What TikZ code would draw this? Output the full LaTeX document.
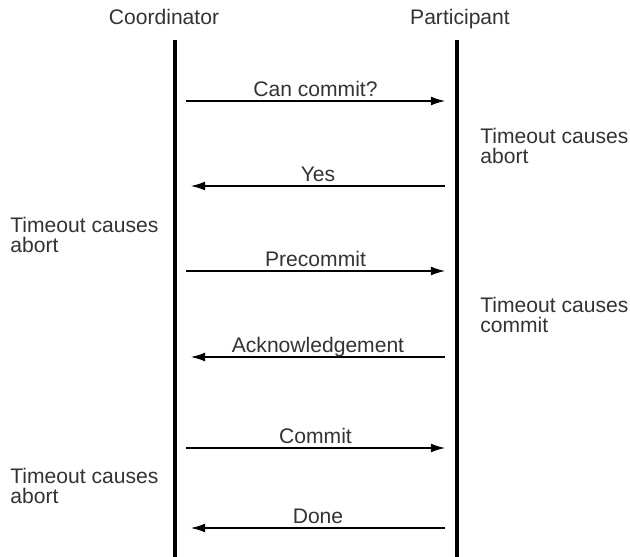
\documentclass[tikz,border=0pt]{standalone}
\usepackage{fontspec}
\setmainfont{Liberation Sans}
\usetikzlibrary{arrows.meta}

\begin{document}
\begin{tikzpicture}[x=0.02cm,y=-0.02cm,
  every node/.style={text=black!80,font=\fontsize{12}{11.9}\selectfont},
  lifeline/.style={line width=1.9pt},
  msg/.style={line width=0.6pt,-{Latex[length=8pt,width=5pt]}},
  msglabel/.style={midway,anchor=base,yshift=2.3pt},
  note/.style={align=left,inner sep=0pt,anchor=base west}]
\useasboundingbox (0,0) rectangle (630,557);
% Kopfzeile
\node[anchor=base] (coord) at (164,25) {Coordinator};
\node[anchor=base] (part) at (460,25) {Participant};
% Lebenslinien
\coordinate (ctop) at (175,40);
\coordinate (cbot) at (175,557);
\coordinate (ptop) at (457,40);
\coordinate (pbot) at (457,557);
\draw[lifeline] (ctop) -- (cbot);
\draw[lifeline] (ptop) -- (pbot);
% Can commit?
\coordinate (c1) at (186,101);
\coordinate (p1) at (445,101);
\draw[msg] (c1) -- (p1) node[msglabel] {Can commit?};
% Yes
\coordinate (p2) at (445,186);
\coordinate (c2) at (191,186);
\draw[msg] (p2) -- (c2) node[msglabel] {Yes};
% Precommit
\coordinate (c3) at (186,271);
\coordinate (p3) at (445,271);
\draw[msg] (c3) -- (p3) node[msglabel] {Precommit};
% Acknowledgement
\coordinate (p4) at (445,357);
\coordinate (c4) at (191,357);
\draw[msg] (p4) -- (c4) node[msglabel] {Acknowledgement};
% Commit
\coordinate (c5) at (186,448);
\coordinate (p5) at (445,448);
\draw[msg] (c5) -- (p5) node[msglabel] {Commit};
% Done
\coordinate (p6) at (445,528);
\coordinate (c6) at (191,528);
\draw[msg] (p6) -- (c6) node[msglabel] {Done};
% Timeouts (Grundlinie der letzten Zeile)
\node[note] (tca1) at (10,253) {Timeout causes\\abort};
\node[note] (tpa) at (480,164) {Timeout causes\\abort};
\node[note] (tpc) at (480,333) {Timeout causes\\commit};
\node[note] (tca2) at (10,504) {Timeout causes\\abort};
\end{tikzpicture}
\end{document}
